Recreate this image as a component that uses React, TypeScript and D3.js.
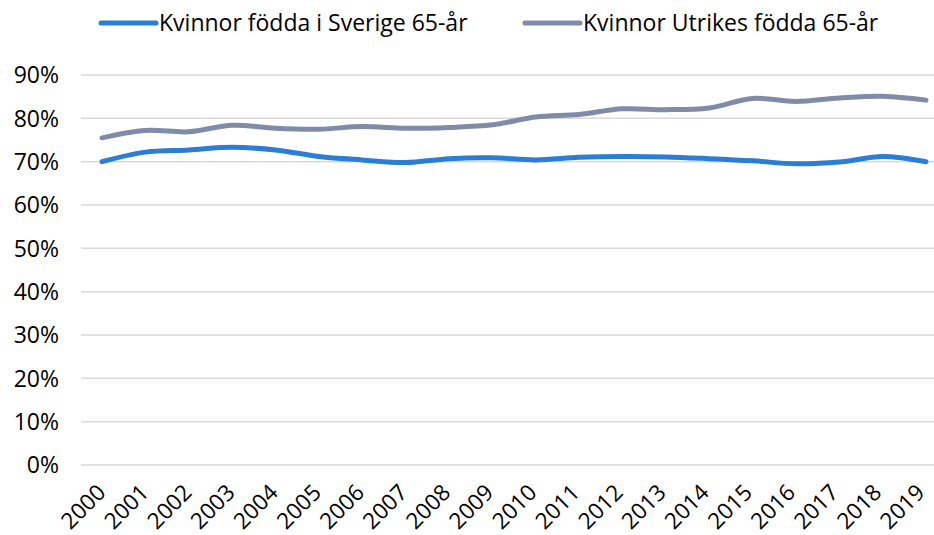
import React from "react";
import * as d3 from "d3";

const years = ["2000","2001","2002","2003","2004","2005","2006","2007","2008","2009","2010","2011","2012","2013","2014","2015","2016","2017","2018","2019"];
const sverige = [70.0,72.2,72.7,73.3,72.7,71.2,70.4,69.8,70.7,70.9,70.4,71.0,71.2,71.1,70.7,70.2,69.5,69.9,71.2,70.0];
const utrikes = [75.5,77.2,76.9,78.4,77.7,77.5,78.1,77.7,77.9,78.5,80.3,80.9,82.2,82.0,82.4,84.6,83.9,84.7,85.1,84.2];
const yTicks = [0,10,20,30,40,50,60,70,80,90];
const seriesNames = ["Kvinnor födda i Sverige 65-år","Kvinnor Utrikes födda 65-år"];
const colors = ["#2a7ed6","#7f8ca9"];

export default function App() {
  const W = 934, H = 535;
  const x = d3.scalePoint<string>().domain(years).range([102, 926]);
  const xLabel = d3.scalePoint<string>().domain(years).range([107, 926]);
  const y = d3.scaleLinear().domain([0, 90]).range([465, 75]);
  const line = d3.line<number>().x((_, i) => x(years[i])!).y(d => y(d)).curve(d3.curveCatmullRom.alpha(0.5));
  const font = "'Open Sans', sans-serif";
  const legendX = [101, 525];
  return (
    <svg width={W} height={H} style={{ position: "absolute", left: 0, top: 0 }} fontFamily={font}>
      <rect width={W} height={H} fill="#fff" />
      {yTicks.map(t => (
        <g key={t}>
          <line x1={81} x2={934} y1={y(t)} y2={y(t)} stroke="#d9d9d9" strokeWidth={1.5} />
          <text x={59} y={y(t)} dy="0.36em" textAnchor="end" fontSize={23} fill="#000">{t}%</text>
        </g>
      ))}
      {years.map(yr => (
        <text key={yr} transform={`translate(${xLabel(yr)!},${494}) rotate(-45)`} textAnchor="end" fontSize={22.5} fill="#000">{yr}</text>
      ))}
      {[sverige, utrikes].map((s, i) => (
        <path key={i} d={line(s)!} fill="none" stroke={colors[i]} strokeWidth={5} strokeLinecap="round" />
      ))}
      {seriesNames.map((n, i) => (
        <g key={n}>
          <line x1={legendX[i]} x2={legendX[i] + 55} y1={23} y2={23} stroke={colors[i]} strokeWidth={5} strokeLinecap="round" />
          <text x={legendX[i] + 58} y={31} fontSize={23} fill="#000">{n}</text>
        </g>
      ))}
    </svg>
  );
}
